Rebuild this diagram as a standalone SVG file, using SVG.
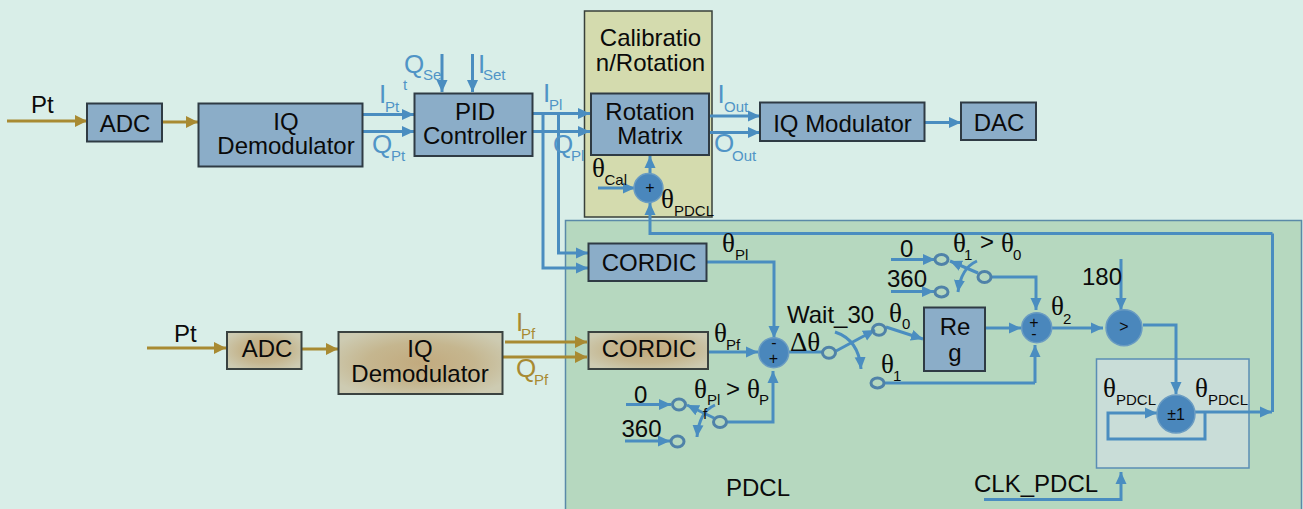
<svg xmlns="http://www.w3.org/2000/svg" width="1303" height="509" viewBox="0 0 1303 509">
<defs>
<radialGradient id="tan" cx="50%" cy="50%" r="60%"><stop offset="0" stop-color="#c2aa7e"/><stop offset="0.55" stop-color="#c5b68f"/><stop offset="1" stop-color="#cdcbb2"/></radialGradient>
<marker id="ab" markerUnits="userSpaceOnUse" markerWidth="14" markerHeight="14" refX="12" refY="7" orient="auto"><path d="M0 1.500 L12 7 L0 12.500 Z" fill="#4a8dc0"/></marker>
<marker id="ag" markerUnits="userSpaceOnUse" markerWidth="14" markerHeight="14" refX="12" refY="7" orient="auto"><path d="M0 1 L12 7 L0 13 Z" fill="#a88a32"/></marker>
</defs>
<style>
text{font-family:"Liberation Sans",Arial,sans-serif;font-size:24px;fill:#0a0a0a}
.c{text-anchor:middle}
.th{font-family:"Liberation Serif","DejaVu Serif",serif;font-size:27px}
.s{font-size:15px}
.bl{fill:#5094c6}.go{fill:#a88a32}
.bt{font-size:26px}
.box{fill:#8badc8;stroke:#2f3b44;stroke-width:2}
.tan{fill:url(#tan);stroke:#3a4240;stroke-width:2}
.w{fill:none;stroke:#4a8dc0;stroke-width:3}
.a{marker-end:url(#ab)}
.g{fill:none;stroke:#a88a32;stroke-width:3;marker-end:url(#ag)}
.sum{fill:#4a87bc;stroke:#6a9cc2;stroke-width:1.5}
.sw{fill:none;stroke:#4f82a8;stroke-width:3}
.op{font-size:16px}
</style>
<rect width="1303" height="509" fill="#d9eee8"/>
<g id="calibration-panel"><rect x="584.5" y="11" width="127.5" height="206" fill="#d4dbae" stroke="#38403a" stroke-width="1.5"/><text class="c" y="46"><tspan x="650.500">Calibratio</tspan><tspan x="650.500" dy="24.500">n/Rotation</tspan></text></g>
<g id="pdcl-panel"><rect x="565.500" y="220.500" width="736" height="295" fill="#b6d8bf" stroke="#5a8aa8" stroke-width="1.500"/><text x="726" y="495.500">PDCL</text></g>
<g id="counter-panel"><rect x="1096.500" y="359" width="152.500" height="109" fill="#c9ddd8" stroke="#5a8db5" stroke-width="1.500"/></g>
<g id="connectors">
<path class="g" d="M7 121H87"/><path class="g" d="M162 122H198"/>
<path class="w a" d="M362 114.500H414"/><path class="w a" d="M362 131.500H414"/>
<path class="w a" d="M442 54V92"/><path class="w a" d="M472.500 54V92"/>
<path class="w a" d="M532 113.500H590"/><path class="w a" d="M532 131.500H590"/>
<path class="w a" d="M543 113.500V268H588"/><path class="w a" d="M558.500 113.500V253H588"/>
<path class="w a" d="M708 116H760"/><path class="w a" d="M708 132.500H760"/>
<path class="w a" d="M924 122.500H961"/>
<path class="w a" d="M650 175V156"/><path class="w a" d="M598 188H635"/>
<path class="w a" d="M1272.500 233.500H650V203"/>
<path class="w" d="M1272.500 233.500V412"/>
<path class="g" d="M147 348H226"/><path class="g" d="M301 349H338"/>
<path class="g" d="M505 342H587"/><path class="g" d="M503 357H587"/>
<path class="w a" d="M706 262H774V338"/>
<path class="w a" d="M706 352H758"/>
<path class="w" d="M789 352H823"/>
<path class="w a" d="M836 351L875 330"/>
<path class="w a" d="M835 332Q859 340 861 369"/>
<path class="w a" d="M886 327L923 339"/>
<path class="w" d="M884 383H1035"/><path class="w a" d="M1035 383V345"/>
<path class="w a" d="M985 328H1021"/>
<path class="w a" d="M1052 328H1103"/>
<path class="w a" d="M891 259.500H935"/><path class="w a" d="M891 291.500H934"/>
<path class="w a" d="M978 273L950 261"/>
<path class="w a" d="M977 261Q961 268 958 292"/>
<path class="w a" d="M992 277H1036V310"/>
<path class="w a" d="M1121 259V310"/>
<path class="w a" d="M1143 325H1176V394"/>
<path class="w a" d="M1195 412H1272"/>
<path class="w a" d="M1205 412V439H1108V413H1157"/>
<path class="w a" d="M984 499.500H1121V472"/>
<path class="w a" d="M626 404.500H671"/><path class="w a" d="M625 441H670"/>
<path class="w a" d="M727 422H773V371"/>
<path class="w a" d="M714 418L687 405"/>
<path class="w a" d="M715 405Q699 412 697 437"/>
</g>
<g id="pt-top"><text x="31" y="112.500">Pt</text></g>
<g id="adc-top"><rect class="box" x="87" y="103.500" width="75" height="38"/><text class="c" x="125" y="132">ADC</text></g>
<g id="iq-demod-top"><rect class="box" x="198.500" y="103.500" width="164" height="63"/><text class="c" y="130"><tspan x="286">IQ</tspan><tspan x="286" dy="23.500">Demodulator</tspan></text></g>
<g id="pid"><rect class="box" x="414.500" y="93.500" width="118" height="62.500"/><text class="c" y="120"><tspan x="475">PID</tspan><tspan x="475" dy="23.500">Controller</tspan></text></g>
<g id="rotation-matrix"><rect class="box" x="591" y="93.500" width="118" height="61.500"/><text class="c" y="120"><tspan x="650">Rotation</tspan><tspan x="650" dy="23.500">Matrix</tspan></text></g>
<g id="iq-modulator"><rect class="box" x="760" y="102.500" width="164.500" height="38.500"/><text class="c" x="842.500" y="132">IQ Modulator</text></g>
<g id="dac"><rect class="box" x="961" y="102.500" width="75" height="37.500"/><text class="c" x="999" y="131">DAC</text></g>
<g id="cordic-pl"><rect class="box" x="588.500" y="243.500" width="118" height="37.500"/><text class="c" x="649" y="271">CORDIC</text></g>
<g id="pt-bottom"><text x="174" y="342">Pt</text></g>
<g id="adc-bottom"><rect class="tan" x="227" y="332" width="74.500" height="37"/><text class="c" x="267" y="357">ADC</text></g>
<g id="iq-demod-bottom"><rect class="tan" x="338.500" y="332" width="164" height="62"/><text class="c" y="357"><tspan x="420">IQ</tspan><tspan x="420" dy="24.500">Demodulator</tspan></text></g>
<g id="cordic-pf"><rect class="tan" x="588.500" y="332" width="119.500" height="37"/><text class="c" x="649" y="357">CORDIC</text></g>
<g id="reg"><rect class="box" x="924" y="307.500" width="61" height="63.500"/><text class="c" y="335"><tspan x="955">Re</tspan><tspan x="955" dy="25.500">g</tspan></text></g>
<g id="sum-cal"><circle class="sum" cx="648.500" cy="188" r="14.500"/><text class="c op" x="650" y="193">+</text></g>
<g id="sum-pl-pf"><circle class="sum" cx="773.700" cy="352.700" r="15"/><text class="c op" y="348"><tspan x="774">-</tspan><tspan x="773.500" dy="16">+</tspan></text></g>
<g id="sum-reg"><circle class="sum" cx="1036.700" cy="327.700" r="15"/><text class="c op" y="328"><tspan x="1034">+</tspan><tspan x="1034" dy="11">-</tspan></text></g>
<g id="compare"><circle class="sum" cx="1124" cy="327.700" r="18"/><text class="c op" x="1124" y="332">&gt;</text></g>
<g id="counter"><circle class="sum" cx="1176" cy="414" r="19"/><text class="c op" x="1176" y="419.500">±1</text></g>
<g id="switches">
<ellipse class="sw" cx="829" cy="352.700" rx="6.500" ry="5.500"/><ellipse class="sw" cx="879" cy="329.700" rx="6.500" ry="5.500"/><ellipse class="sw" cx="877.500" cy="383" rx="6.500" ry="5"/>
<ellipse class="sw" cx="941.500" cy="259.500" rx="6.500" ry="5"/><ellipse class="sw" cx="941.500" cy="292" rx="6.500" ry="5"/><ellipse class="sw" cx="984.500" cy="277" rx="6.500" ry="5.500"/>
<ellipse class="sw" cx="679" cy="404.500" rx="6.500" ry="5.500"/><ellipse class="sw" cx="677.500" cy="441.500" rx="6.500" ry="5.500"/><ellipse class="sw" cx="720" cy="422" rx="6.500" ry="5.500"/>
</g>
<g id="labels">
<text class="bl bt" x="379" y="103">I</text><text class="bl s" x="385" y="112">Pt</text>
<text class="bl bt" x="372" y="152.500">Q</text><text class="bl s" x="391" y="161">Pt</text>
<text class="bl bt" x="404" y="72.500">Q</text><text class="bl s" x="423" y="80">Se</text><text class="bl s" x="403" y="90">t</text>
<text class="bl bt" x="478" y="73">I</text><text class="bl s" x="483" y="80">Set</text>
<text class="bl bt" x="543" y="101.500">I</text><text class="bl s" x="549" y="110">Pl</text>
<text class="bl bt" x="553" y="153">Q</text><text class="bl s" x="571" y="161">Pl</text>
<text class="bl bt" x="717.500" y="103">I</text><text class="bl s" x="724" y="112">Out</text>
<text class="bl bt" x="714" y="152">O</text><text class="bl s" x="732" y="161">Out</text>
<text class="go bt" x="516" y="330.500">I</text><text class="go s" x="521" y="339">Pf</text>
<text class="go bt" x="516" y="377">Q</text><text class="go s" x="534" y="385">Pf</text>
<text class="th" x="592" y="177">θ</text><text class="s" x="604.500" y="185">Cal</text>
<text class="th" x="661" y="208">θ</text><text class="s" x="674" y="216">PDCL</text>
<text class="th" x="722" y="252">θ</text><text class="s" x="735" y="260">Pl</text>
<text class="th" x="714" y="342">θ</text><text class="s" x="726" y="350">Pf</text>
<text x="787" y="323">Wait_30</text>
<text class="th" x="790" y="350.500">Δθ</text>
<text class="th" x="889" y="321.500">θ</text><text class="s" x="902" y="329">0</text>
<text class="th" x="881" y="373">θ</text><text class="s" x="893" y="381">1</text>
<text x="900" y="257">0</text><text x="887" y="286.500">360</text>
<text class="th" x="953" y="251.500">θ</text><text class="s" x="964" y="260">1</text><text x="980" y="250">&gt;</text><text class="th" x="1001" y="251.500">θ</text><text class="s" x="1013" y="260">0</text>
<text x="1082" y="285">180</text>
<text class="th" x="1051" y="315">θ</text><text class="s" x="1063" y="324">2</text>
<text class="th" x="1103" y="396.500">θ</text><text class="s" x="1116" y="405">PDCL</text>
<text class="th" x="1195" y="396.500">θ</text><text class="s" x="1208" y="405">PDCL</text>
<text x="974" y="491.500">CLK_PDCL</text>
<text x="634" y="402.500">0</text><text x="621.500" y="436.500">360</text>
<text class="th" x="694" y="397.500">θ</text><text class="s" x="707" y="405">Pl</text><text class="s" x="703" y="419">f</text><text x="726" y="397">&gt;</text><text class="th" x="747" y="397.500">θ</text><text class="s" x="759" y="405">P</text>
</g>
</svg>
